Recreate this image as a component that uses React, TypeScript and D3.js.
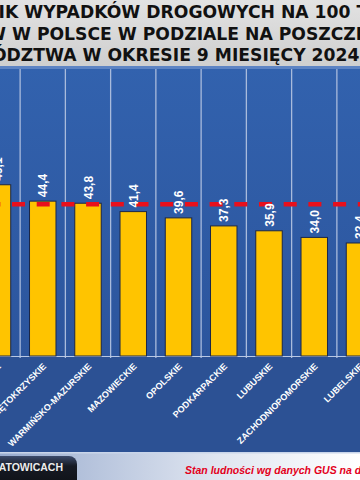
import { useEffect, useRef } from 'react';
import * as d3 from 'd3';

// accidents per 100k inhabitants, 9 months of 2024 (visible part of the slide)
const REGIONS = ['ŁÓDZKIE', 'ŚWIĘTOKRZYSKIE', 'WARMIŃSKO-MAZURSKIE', 'MAZOWIECKIE', 'OPOLSKIE', 'PODKARPACKIE', 'LUBUSKIE', 'ZACHODNIOPOMORSKIE', 'LUBELSKIE'];
const RATES = [49.1, 44.4, 43.8, 41.4, 39.6, 37.3, 35.9, 34.0, 32.4];
const POLAND_AVG = 43.5;

// [part cut off on the left, visible part]
const TITLE_LINES = [
  ['WSKAŹN', 'IK WYPADKÓW DROGOWYCH NA 100 TYS.'],
  ['MIESZKAŃCÓ', 'W W POLSCE W PODZIALE NA POSZCZEGÓLNE'],
  ['WOJEW', 'ÓDZTWA W OKRESIE 9 MIESIĘCY 2024 R.'],
];
const TITLE_START = [-1.5, -13, -8];
const FOOTER_LEFT = 'KOMENDA WOJEWÓDZKA POLICJI W KATOWICACH';
const FOOTER_NOTE = 'Stan ludności wg danych GUS na dzień 30.06.2024 r.';

export default function App() {
  const svgRef = useRef<SVGSVGElement>(null);

  useEffect(() => {
    const W = 360, H = 480;
    const PANEL_TOP = 66, PLOT_TOP = 70, AXIS_Y = 356, PANEL_BOTTOM = 452;
    const FONT = '"Liberation Sans", Arial, sans-serif';

    const svg = d3.select(svgRef.current);
    svg.selectAll('*').remove();
    svg.attr('width', W).attr('height', H);

    const defs = svg.append('defs');
    const grad = (id, stops, x2 = '0', y2 = '1') => {
      const lg = defs.append('linearGradient').attr('id', id).attr('x1', 0).attr('y1', 0).attr('x2', x2).attr('y2', y2);
      stops.forEach(([o, c]) => lg.append('stop').attr('offset', o).attr('stop-color', c));
    };
    grad('titleBg', [[0, '#e2e2e2'], [1, '#cfcfcf']]);
    grad('plotBg', [[0, '#3262ae'], [1, '#2c559d']]);
    grad('footBg', [[0, '#98abce'], [0.6, '#dfe5f0'], [1, '#ffffff']], '1', '0');
    grad('tabBg', [[0, '#3c4b6c'], [0.25, '#161a24'], [1, '#0c0c0f']]);

    // backgrounds
    svg.append('rect').attr('width', W).attr('height', PANEL_TOP).attr('fill', 'url(#titleBg)');
    svg.append('rect').attr('y', PANEL_TOP).attr('width', W).attr('height', PANEL_BOTTOM - PANEL_TOP).attr('fill', '#2c5194');
    svg.append('rect').attr('y', PANEL_TOP).attr('width', W).attr('height', AXIS_Y - PANEL_TOP).attr('fill', 'url(#plotBg)');
    svg.append('rect').attr('y', PANEL_TOP).attr('width', W).attr('height', 3).attr('fill', '#5d84c4');
    svg.append('rect').attr('y', PANEL_BOTTOM).attr('width', W).attr('height', H - PANEL_BOTTOM).attr('fill', 'url(#footBg)');
    svg.append('rect').attr('y', PANEL_BOTTOM).attr('width', W).attr('height', 1.5).attr('fill', '#c9d5ea');

    // title (the slide is cropped, so lines run past both edges)
    TITLE_LINES.forEach(([cut, shown], i) => {
      const t = svg.append('text')
        .attr('y', 18 + i * 21.5)
        .attr('font-family', '"DejaVu Sans", sans-serif').attr('font-size', 17.2).attr('font-weight', 700)
        .attr('fill', '#111')
        .text(cut);
      const w = (t.node() as SVGTextElement).getComputedTextLength();
      t.attr('x', TITLE_START[i] - w).text(cut + shown);
    });

    const step = 45.25;
    const x0 = -2.5 - step / 2;
    const x = d3.scaleBand().domain(REGIONS)
      .range([x0, x0 + step * REGIONS.length])
      .paddingInner(0.415).paddingOuter(0.2075);
    const y = d3.scaleLinear().domain([0, 82]).range([AXIS_Y, PLOT_TOP]);

    const g = svg.append('g');

    // vertical separators between categories
    REGIONS.slice(1).forEach((r) => {
      const gx = x(r) - (x.step() - x.bandwidth()) / 2;
      g.append('line')
        .attr('x1', gx).attr('x2', gx).attr('y1', PANEL_TOP + 3).attr('y2', AXIS_Y + 2)
        .attr('stroke', '#a9bbdc').attr('stroke-width', 1.3);
    });

    // axis line
    g.append('line').attr('x1', 0).attr('x2', W).attr('y1', AXIS_Y + 0.5).attr('y2', AXIS_Y + 0.5)
      .attr('stroke', '#b9c8e4').attr('stroke-width', 1);

    // bars
    REGIONS.forEach((r, i) => {
      g.append('rect')
        .attr('x', x(r)).attr('y', y(RATES[i]))
        .attr('width', x.bandwidth()).attr('height', y(0) - y(RATES[i]))
        .attr('fill', '#ffc400').attr('stroke', '#1b2748').attr('stroke-width', 1);
    });

    // Poland average
    g.append('line')
      .attr('x1', -12.7).attr('x2', W + 10).attr('y1', y(POLAND_AVG)).attr('y2', y(POLAND_AVG))
      .attr('stroke', '#e8101c').attr('stroke-width', 4.6).attr('stroke-dasharray', '13 11.7');

    // value labels
    REGIONS.forEach((r, i) => {
      const cx = x(r) + x.bandwidth() / 2 + 4.5;
      const cy = y(RATES[i]) - 4;
      g.append('text')
        .attr('transform', `translate(${cx},${cy}) rotate(-90)`)
        .attr('font-family', FONT).attr('font-size', 12).attr('font-weight', 700)
        .attr('fill', '#fff')
        .text(RATES[i].toFixed(1).replace('.', ','));
    });

    // category labels
    REGIONS.forEach((r) => {
      const cx = x(r) + x.bandwidth() / 2 + 4;
      g.append('text')
        .attr('transform', `translate(${cx},${AXIS_Y + 11}) rotate(-45)`)
        .attr('text-anchor', 'end')
        .attr('font-family', FONT).attr('font-size', 9).attr('font-weight', 700)
        .attr('fill', '#fff')
        .text(r);
    });

    // footer
    svg.append('rect').attr('x', -10).attr('y', 456).attr('width', 87).attr('height', 40).attr('rx', 8)
      .attr('fill', 'url(#tabBg)');
    svg.append('text').attr('x', 63).attr('y', 471).attr('text-anchor', 'end')
      .attr('font-family', FONT).attr('font-size', 10.5).attr('font-weight', 700).attr('fill', '#ececec')
      .text(FOOTER_LEFT);
    svg.append('text').attr('x', 185).attr('y', 474)
      .attr('font-family', FONT).attr('font-size', 10.5).attr('font-weight', 700).attr('font-style', 'italic')
      .attr('fill', '#e3001b')
      .text(FOOTER_NOTE);
  }, []);

  return <svg ref={svgRef} style={{ position: 'absolute', left: 0, top: 0, display: 'block' }} />;
}
